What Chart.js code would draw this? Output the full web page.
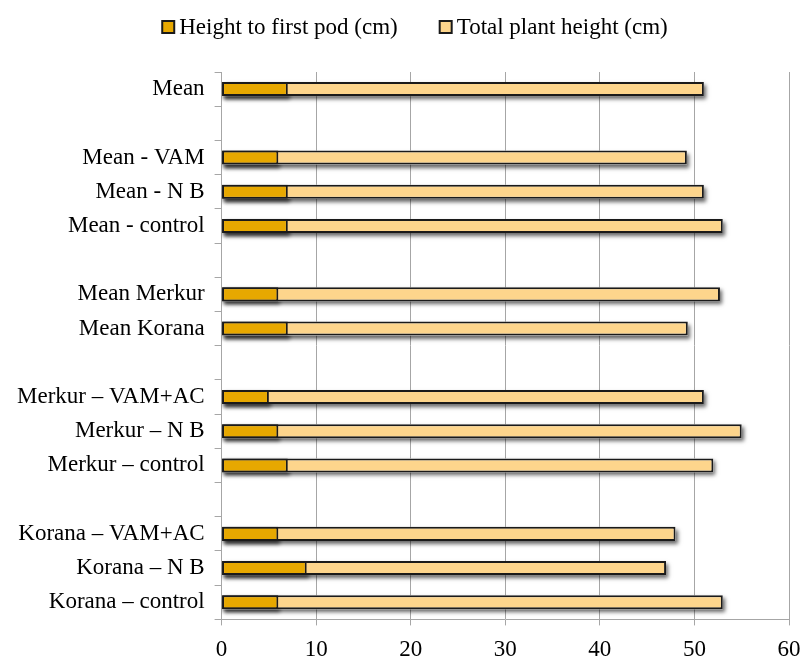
<!DOCTYPE html>
<html>
<head>
<meta charset="utf-8">
<script src="https://cdn.jsdelivr.net/npm/chart.js@4.4.1/dist/chart.umd.min.js"></script>
<style>
  html, body { margin: 0; padding: 0; background: #ffffff; }
  #wrap { width: 803px; height: 657px; position: relative; }
</style>
</head>
<body>
<div id="wrap"><canvas id="chart" width="803" height="657"></canvas></div>
<script>
// Row labels, top to bottom; empty strings are spacer rows between groups
const categories = [
  'Mean', '',
  'Mean - VAM', 'Mean - N B', 'Mean - control', '',
  'Mean Merkur', 'Mean Korana', '',
  'Merkur – VAM+AC', 'Merkur – N B', 'Merkur – control', '',
  'Korana – VAM+AC', 'Korana – N B', 'Korana – control'
];

// Height to first pod (cm)
const firstPodHeight = [
  7, null,
  6, 7, 7, null,
  6, 7, null,
  5, 6, 7, null,
  6, 9, 6
];

// Total plant height (cm)
const totalHeight = [
  51, null,
  49.2, 51, 53, null,
  52.7, 49.3, null,
  51, 55, 52, null,
  48, 47, 53
];

const xTicks = [0, 10, 20, 30, 40, 50, 60];

const serif = '"Liberation Serif", "Times New Roman", serif';
const outline = '#1a1a1a';

// Drop shadow: the bar element clips its own drawing, so cast the shadow
// from a plain rectangle under each bar before the datasets are painted
const barShadow = {
  id: 'barShadow',
  beforeDatasetsDraw(chart) {
    const c = chart.ctx;
    const area = chart.chartArea;
    c.save();
    c.beginPath();
    c.rect(area.left, area.top, area.right - area.left + 10, area.bottom - area.top);
    c.clip();
    c.shadowColor = 'rgba(0,0,0,0.6)';
    c.shadowBlur = 4;
    c.shadowOffsetX = 2;
    c.shadowOffsetY = 3;
    c.fillStyle = '#ffffff';
    chart.data.datasets.forEach((ds, i) => {
      const meta = chart.getDatasetMeta(i);
      meta.data.forEach((bar, j) => {
        if (ds.data[j] == null) return;
        const p = bar.getProps(['x', 'y', 'base', 'height'], true);
        const left = Math.min(p.x, p.base);
        const w = Math.abs(p.x - p.base);
        c.fillRect(left, p.y - p.height / 2, w, p.height);
      });
    });
    c.restore();
  }
};

// Compact legend row above the plot: small outlined swatch, text right beside it
const topLegend = {
  id: 'topLegend',
  afterDraw(chart) {
    const c = chart.ctx;
    const items = chart.data.datasets
      .map((ds, i) => ({ ds, i }))
      .sort((a, b) => (a.ds.order || 0) - (b.ds.order || 0));
    const box = 12, gap = 5, itemGap = 42, cy = 27;
    c.save();
    c.font = '23px ' + serif;
    c.textBaseline = 'middle';
    c.textAlign = 'left';
    const widths = items.map(it => box + gap + c.measureText(it.ds.label).width);
    const total = widths.reduce((a, b) => a + b, 0) + itemGap * (items.length - 1);
    let x = 415 - total / 2;
    items.forEach((it, k) => {
      c.fillStyle = it.ds.backgroundColor;
      c.fillRect(x, cy - box / 2, box, box);
      c.strokeStyle = outline;
      c.lineWidth = 2;
      c.strokeRect(x, cy - box / 2, box, box);
      c.fillStyle = '#000';
      c.fillText(it.ds.label, x + box + gap, cy + 1);
      x += widths[k] + itemGap;
    });
    c.restore();
  }
};

new Chart(document.getElementById('chart'), {
  type: 'bar',
  data: {
    labels: categories,
    datasets: [
      {
        label: 'Height to first pod (cm)',
        data: firstPodHeight,
        backgroundColor: '#E7A800',
        borderColor: outline,
        borderWidth: 2,
        borderSkipped: false,
        grouped: false,
        order: 0,
        barPercentage: 0.41,
        categoryPercentage: 1.0
      },
      {
        label: 'Total plant height (cm)',
        data: totalHeight,
        backgroundColor: '#FDD58C',
        borderColor: outline,
        borderWidth: 2,
        borderSkipped: false,
        grouped: false,
        order: 1,
        barPercentage: 0.41,
        categoryPercentage: 1.0
      }
    ]
  },
  options: {
    indexAxis: 'y',
    responsive: false,
    animation: false,
    devicePixelRatio: 1,
    layout: { padding: { left: 7, right: 8, top: 72, bottom: -18 } },
    plugins: {
      tooltip: { enabled: false },
      legend: { display: false }
    },
    scales: {
      x: {
        min: 0,
        max: 60,
        afterBuildTicks(scale) {
          scale.ticks = xTicks.map(v => ({ value: v }));
        },
        afterFit(scale) {
          scale.paddingRight = 14;
        },
        grid: {
          color: '#a6a6a6',
          lineWidth: 1,
          tickLength: 6
        },
        border: { color: '#a6a6a6', width: 1 },
        ticks: {
          color: '#000',
          font: { family: serif, size: 23 },
          padding: 11
        }
      },
      y: {
        offset: true,
        grid: {
          drawOnChartArea: false,
          offset: true,
          color: '#a6a6a6',
          tickLength: 7
        },
        border: { color: '#a6a6a6', width: 1 },
        ticks: {
          color: '#000',
          font: { family: serif, size: 23 },
          padding: 10,
          autoSkip: false
        }
      }
    }
  },
  plugins: [barShadow, topLegend]
});
</script>
</body>
</html>
